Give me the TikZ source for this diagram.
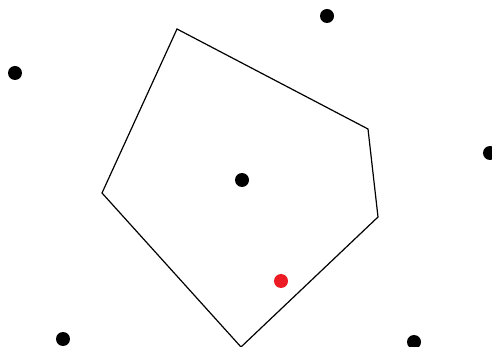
\documentclass[tikz,border=0pt]{standalone}
\definecolor{dotred}{RGB}{237,28,36}
\begin{document}
\begin{tikzpicture}[x=1pt,y=-1pt,
  pt/.style={circle,fill=black,inner sep=0pt,minimum size=14pt},
  redpt/.style={circle,fill=dotred,inner sep=0pt,minimum size=14pt},
  edge/.style={draw=black,line width=1.2pt,line join=miter}]
\useasboundingbox (0,0) rectangle (492,347);
\coordinate (v1) at (177,29);
\coordinate (v2) at (368,129);
\coordinate (v3) at (378,217);
\coordinate (v4) at (241,347);
\coordinate (v5) at (102,193);
\draw[edge] (v1) -- (v2) -- (v3) -- (v4) -- (v5) -- cycle;
\node[pt] (a) at (15,73) {};
\node[pt] (b) at (327,16) {};
\node[pt] (c) at (490,153) {};
\node[pt] (d) at (63,339) {};
\node[pt] (e) at (414,342) {};
\node[pt] (f) at (242,180) {};
\node[redpt] (g) at (281,281) {};
\end{tikzpicture}
\end{document}
